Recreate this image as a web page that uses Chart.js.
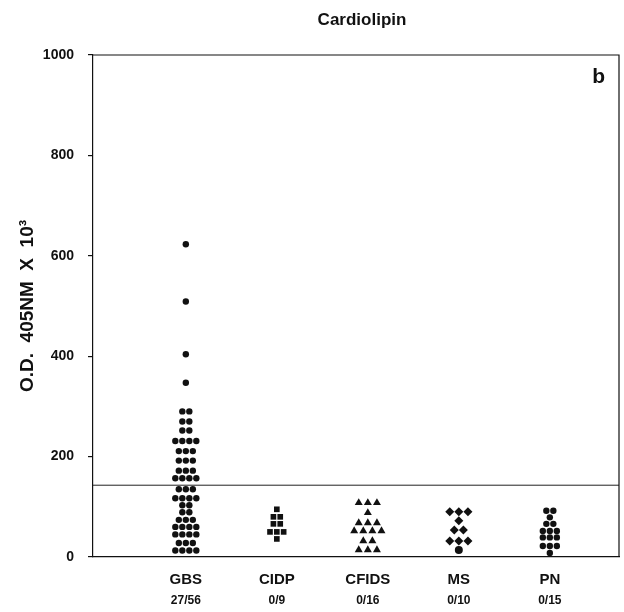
<!DOCTYPE html>
<html>
<head>
<meta charset="utf-8">
<script src="https://cdn.jsdelivr.net/npm/chart.js@4.4.1/dist/chart.umd.min.js"></script>
<style>
  html, body { margin: 0; padding: 0; background: #fff; }
  #wrap { width: 624px; height: 612px; }
</style>
</head>
<body>
<div id="wrap"><canvas id="chart" width="624" height="612"></canvas></div>
<script>
// ── Data ─────────────────────────────────────────────────────────────────────
var GROUPS   = ['GBS', 'CIDP', 'CFIDS', 'MS', 'PN'];
var POSITIVE = ['27/56', '0/9', '0/16', '0/10', '0/15'];
var Y_TICKS  = [0, 200, 400, 600, 800, 1000];
var CUTOFF   = 143;

var GBS   = [623, 509, 404, 347, 290, 290, 270, 270, 252, 252, 231, 231, 231, 231,
             211, 211, 211, 192, 192, 192, 172, 172, 172, 157, 157, 157, 157,
             135, 135, 135, 117, 117, 117, 117, 103, 103, 89, 89, 74, 74, 74,
             60, 60, 60, 60, 45, 45, 45, 45, 28, 28, 28, 13, 13, 13, 13];
var CIDP  = [95, 80, 80, 66, 66, 50, 50, 50, 36];
var CFIDS = [108, 108, 108, 88, 68, 68, 68, 52, 52, 52, 52, 32, 32, 14, 14, 14];
var MS    = [90, 90, 90, 72, 54, 54, 32, 32, 32, 14];
var PN    = [92, 92, 79, 66, 66, 52, 52, 52, 39, 39, 39, 22, 22, 22, 8];

// ── Helpers ──────────────────────────────────────────────────────────────────
var X_MIN = -1.02, X_MAX = 4.76;
var INK = '#111';
var FONT = '"Liberation Sans", Arial, Helvetica, sans-serif';

// spread equal values side by side around the category position
function spread(values, idx, gap) {
    var counts = {}, seen = {};
    values.forEach(function (v) { counts[v] = (counts[v] || 0) + 1; });
    return values.map(function (v) {
        var k = seen[v] || 0;
        seen[v] = k + 1;
        return { x: idx + (k - (counts[v] - 1) / 2) * gap, y: v };
    });
}

function dotSet(values, idx, gap, style, radius) {
    return {
        data: spread(values, idx, gap),
        pointStyle: style,
        pointRadius: radius,
        backgroundColor: INK,
        borderColor: INK,
        borderWidth: 0,
    };
}

var msMin = Math.min.apply(null, MS);

var frame = {
    id: 'frame',
    afterDraw: function (chart) {
        var ctx = chart.ctx, a = chart.chartArea;
        ctx.save();
        ctx.strokeStyle = INK;
        ctx.lineWidth = 1.2;
        ctx.beginPath();
        ctx.moveTo(a.left, a.top);
        ctx.lineTo(a.right, a.top);
        ctx.lineTo(a.right, a.bottom);
        ctx.stroke();
        ctx.fillStyle = INK;
        ctx.textBaseline = 'middle';
        ctx.textAlign = 'center';
        ctx.font = 'bold 17px ' + FONT;
        ctx.fillText('Cardiolipin', (a.left + a.right) / 2 + 6, 20);
        ctx.textAlign = 'right';
        ctx.font = 'bold 21px ' + FONT;
        ctx.fillText('b', a.right - 14, 77);
        ctx.restore();
    }
};

var datasets = [
    dotSet(GBS, 0, 0.077, 'circle', 3.2),
    dotSet(CIDP, 1, 0.075, 'rect', 4),
    dotSet(CFIDS, 2, 0.1, 'triangle', 4.6),
    {
        data: spread(MS, 3, 0.1),
        pointStyle: function (c) { return c.raw && c.raw.y === msMin ? 'circle' : 'rectRot'; },
        pointRadius: function (c) { return c.raw && c.raw.y === msMin ? 4 : 4.5; },
        backgroundColor: INK, borderColor: INK, borderWidth: 0,
    },
    dotSet(PN, 4, 0.077, 'circle', 3.2),
    {
        data: [{ x: X_MIN, y: CUTOFF }, { x: X_MAX, y: CUTOFF }],
        showLine: true,
        pointRadius: 0,
        borderColor: '#222',
        borderWidth: 1,
    },
];

new Chart(document.getElementById('chart').getContext('2d'), {
    type: 'scatter',
    data: { datasets: datasets },
    plugins: [frame],
    options: {
        responsive: false,
        animation: false,
        layout: { padding: { top: 55, right: 5, bottom: 0, left: 0 } },
        plugins: { legend: { display: false }, tooltip: { enabled: false } },
        scales: {
            x: {
                type: 'linear', position: 'bottom', weight: 0,
                min: X_MIN, max: X_MAX,
                afterBuildTicks: function (s) { s.ticks = GROUPS.map(function (g, i) { return { value: i }; }); },
                afterFit: function (s) { s.height = 30; },
                grid: { display: false, drawTicks: false },
                border: { color: INK, width: 1.2 },
                ticks: {
                    autoSkip: false, maxRotation: 0, padding: 14, color: INK,
                    font: { family: FONT, size: 15, weight: 'bold' },
                    callback: function (v) { return GROUPS[v]; },
                },
            },
            x2: {
                type: 'linear', position: 'bottom', weight: 1,
                min: X_MIN, max: X_MAX,
                afterBuildTicks: function (s) { s.ticks = POSITIVE.map(function (p, i) { return { value: i }; }); },
                afterFit: function (s) { s.height = 25; },
                grid: { display: false, drawTicks: false },
                border: { display: false },
                ticks: {
                    autoSkip: false, maxRotation: 0, padding: 6, color: INK,
                    font: { family: FONT, size: 12, weight: 'bold' },
                    callback: function (v) { return POSITIVE[v]; },
                },
            },
            y: {
                min: 0, max: 1000,
                afterBuildTicks: function (s) { s.ticks = Y_TICKS.map(function (v) { return { value: v }; }); },
                afterFit: function (s) { s.width = 93; },
                grid: { drawOnChartArea: false, color: INK, tickLength: 5, lineWidth: 1.2 },
                border: { color: INK, width: 1.2 },
                ticks: {
                    padding: 14, color: INK,
                    font: { family: FONT, size: 14, weight: 'bold' },
                    callback: function (v) { return String(v); },
                },
                title: {
                    display: true, text: 'O.D.  405NM  X  10³', color: INK,
                    font: { family: FONT, size: 19, weight: 'bold' },
                    padding: { top: 16, bottom: 0 },
                },
            },
        },
    },
});
</script>
</body>
</html>
